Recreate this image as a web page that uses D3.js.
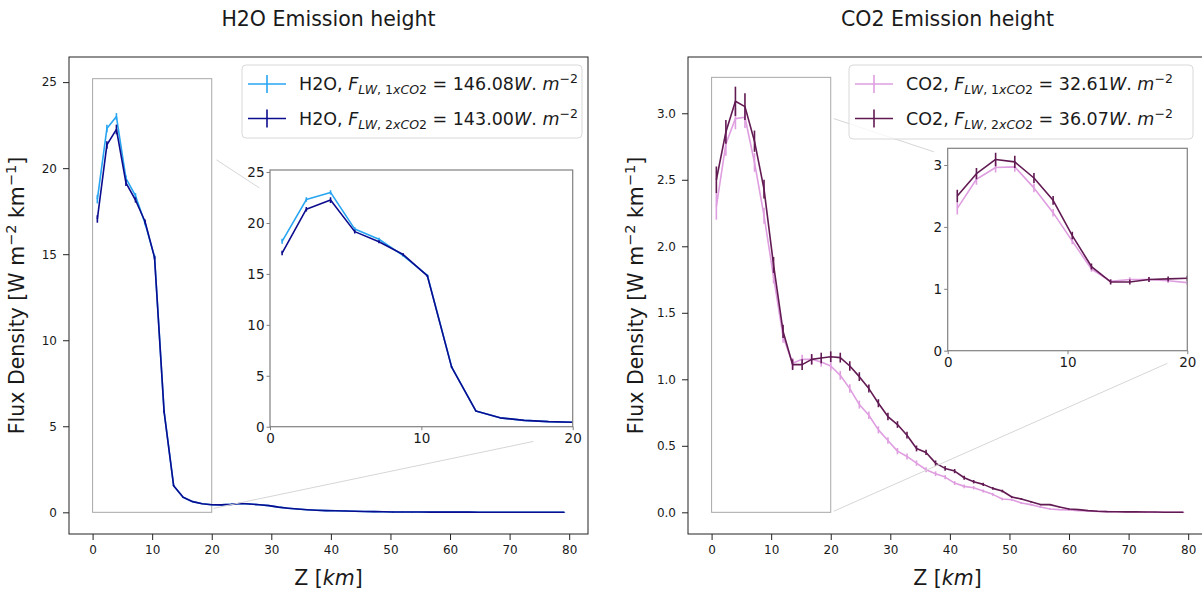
<!DOCTYPE html>
<html><head><meta charset="utf-8">
<script src="https://cdn.jsdelivr.net/npm/d3@7"></script>
<style>
body{margin:0;background:#fff}
svg{display:block}
text{font-family:"DejaVu Sans",sans-serif;fill:#1a1a1a}
</style>
</head><body>
<svg id="c" width="1202" height="592"></svg>
<script>
// ---------------- data ----------------
const zKm = [0.8,2.4,4.0,5.6,7.2,8.8,10.4,12.0,13.6,15.2,16.8,18.4,20.0,21.6,23.2,24.8,26.4,28.0,29.6,31.2,
  32.8,34.4,36.0,37.6,39.2,40.8,42.4,44.0,45.6,47.2,48.8,50.4,52.0,53.6,55.2,56.8,58.4,60.0,61.6,63.2,
  64.8,66.4,68.0,69.6,71.2,72.8,74.4,76.0,77.6,79.2];

const h2o1x = [18.2,22.3,23.0,19.4,18.4,16.8,14.85,5.88,1.55,0.87,0.62,0.50,0.44,0.43,0.46,0.51,0.48,0.44,0.39,0.30,
  0.24,0.19,0.15,0.12,0.10,0.09,0.08,0.065,0.05,0.04,0.03,0.02,0.02,0.015,0.015,0.012,0.01,0.01,0.01,0.01,
  0.008,0.008,0.007,0.006,0.006,0.005,0.005,0.004,0.004,0.003];
const h2o2x = [17.05,21.35,22.25,19.15,18.15,16.9,14.8,5.85,1.55,0.87,0.62,0.50,0.44,0.43,0.46,0.51,0.48,0.44,0.39,0.30,
  0.24,0.19,0.15,0.12,0.10,0.09,0.08,0.065,0.05,0.04,0.03,0.02,0.02,0.015,0.015,0.012,0.01,0.01,0.01,0.01,
  0.008,0.008,0.007,0.006,0.006,0.005,0.005,0.004,0.004,0.003];
const h2oErr1x = [0.25,0.22,0.20,0.18,0.15,0.12,0.10,0.06,0.03,0.02,0.015,0.01,0.01,0.01,0.01,0.01,0.01,0.01,0.01,0.01,
  0.01,0.01,0.01,0.01,0.01,0.01,0.01,0.01,0.01,0.01,0.01,0.01,0.01,0.01,0.01,0.01,0.01,0.01,0.01,0.01,
  0.01,0.01,0.01,0.01,0.01,0.01,0.01,0.01,0.01,0.01];
const h2oErr2x = [0.22,0.22,0.28,0.18,0.15,0.12,0.10,0.06,0.03,0.02,0.015,0.01,0.01,0.01,0.01,0.01,0.01,0.01,0.01,0.01,
  0.01,0.01,0.01,0.01,0.01,0.01,0.01,0.01,0.01,0.01,0.01,0.01,0.01,0.01,0.01,0.01,0.01,0.01,0.01,0.01,
  0.01,0.01,0.01,0.01,0.01,0.01,0.01,0.01,0.01,0.01];

const co21x = [2.30,2.77,2.96,2.97,2.63,2.23,1.77,1.32,1.12,1.15,1.15,1.13,1.10,1.03,0.93,0.81,0.73,0.62,0.54,0.46,
  0.42,0.37,0.32,0.29,0.265,0.22,0.195,0.185,0.16,0.135,0.10,0.095,0.07,0.058,0.04,0.025,0.02,0.018,0.013,0.01,
  0.007,0.005,0.004,0.003,0.002,0.002,0.001,0.001,0.001,0.001];
const co22x = [2.50,2.86,3.09,3.05,2.79,2.43,1.86,1.36,1.11,1.11,1.15,1.16,1.17,1.163,1.10,1.02,0.93,0.82,0.72,0.66,
  0.58,0.48,0.45,0.37,0.33,0.31,0.26,0.23,0.21,0.18,0.16,0.115,0.10,0.08,0.058,0.058,0.04,0.025,0.02,0.013,
  0.008,0.005,0.004,0.003,0.003,0.002,0.002,0.001,0.001,0.001];
const co2Err1x = [0.10,0.09,0.08,0.08,0.07,0.06,0.05,0.045,0.04,0.035,0.035,0.035,0.035,0.033,0.032,0.03,0.028,0.027,0.025,0.024,
  0.022,0.02,0.019,0.018,0.016,0.015,0.014,0.013,0.012,0.011,0.01,0.009,0.008,0.007,0.006,0.005,0.004,0.004,0.003,0.003,
  0.002,0.002,0.002,0.001,0.001,0.001,0.001,0.001,0.001,0.001];
const co2Err2x = [0.10,0.09,0.11,0.10,0.08,0.07,0.06,0.05,0.04,0.04,0.04,0.04,0.04,0.037,0.035,0.033,0.03,0.03,0.028,0.025,
  0.025,0.022,0.02,0.02,0.018,0.016,0.015,0.013,0.012,0.01,0.01,0.008,0.007,0.006,0.005,0.005,0.004,0.004,0.003,0.003,
  0.002,0.002,0.002,0.001,0.001,0.001,0.001,0.001,0.001,0.001];

const xTicks = [0,10,20,30,40,50,60,70,80];
const h2oYTicks = [0,5,10,15,20,25];
const co2YTicks = [0,0.5,1.0,1.5,2.0,2.5,3.0];
const insetXTicks = [0,10,20];
const h2oInsetYTicks = [0,5,10,15,20,25];
const co2InsetYTicks = [0,1,2,3];

const titles = ["H2O Emission height","CO2 Emission height"];
const species = ["H2O","CO2"];
const h2oFlux = ["146.08","143.00"];
const co2Flux = ["32.61","36.07"];
const h2oColors = ["#27a5f2","#0c0c8e"];
const co2Colors = ["#df9ee0","#621a53"];

// ---------------- drawing ----------------
const svg = d3.select('#c');
let clipId = 0;

function drawSeries(g, xs, ys, z, vals, errs, color) {
  const pts = z.map((d,i)=>({x:d,y:vals[i],e:errs[i]}));
  const line = d3.line().x(d=>xs(d.x)).y(d=>ys(d.y));
  g.append('path').datum(pts).attr('d',line).attr('fill','none')
    .attr('stroke',color).attr('stroke-width',1.6).attr('stroke-linejoin','round');
  g.selectAll(null).data(pts).enter().append('line')
    .attr('x1',d=>xs(d.x)).attr('x2',d=>xs(d.x))
    .attr('y1',d=>ys(d.y-d.e)).attr('y2',d=>ys(d.y+d.e))
    .attr('stroke',color).attr('stroke-width',1.6);
}

function makeClip(x,y,w,h){
  const id = 'clip'+(clipId++);
  svg.append('clipPath').attr('id',id).append('rect').attr('x',x).attr('y',y).attr('width',w).attr('height',h);
  return 'url(#'+id+')';
}

function panel(cfg){
  const {fx,fy,fw,fh,xDom,yDom,yTicks,yFmt,series,inset,conn,title,legend} = cfg;
  const xs = d3.scaleLinear().domain(xDom).range([fx,fx+fw]);
  const ys = d3.scaleLinear().domain(yDom).range([fy+fh,fy]);
  const g = svg.append('g');
  // title
  g.append('text').attr('x',fx+fw/2).attr('y',26).attr('text-anchor','middle')
    .style('font-size','20.5px').text(title);
  // plot content
  const cg = g.append('g').attr('clip-path',makeClip(fx,fy,fw,fh));
  // inset indicator rectangle
  cg.append('rect').attr('x',xs(inset.xDom[0])).attr('y',ys(inset.yDom[1]))
    .attr('width',xs(inset.xDom[1])-xs(inset.xDom[0])).attr('height',ys(inset.yDom[0])-ys(inset.yDom[1]))
    .attr('fill','none').attr('stroke','#a8a8a8').attr('stroke-width',1);
  series.forEach(s=>drawSeries(cg,xs,ys,zKm,s.vals,s.errs,s.color));
  // connector lines (in main data coordinates)
  conn.forEach(c=>{
    g.append('line').attr('x1',xs(c[0])).attr('y1',ys(c[1])).attr('x2',xs(c[2])).attr('y2',ys(c[3]))
      .attr('stroke','#d6d6d6').attr('stroke-width',1);
  });
  // axes
  const xAxis = d3.axisBottom(xs).tickValues(xTicks).tickSize(6).tickPadding(5).tickFormat(d3.format('d'));
  const ax = g.append('g').attr('transform',`translate(0,${fy+fh})`).call(xAxis);
  const yAxis = d3.axisLeft(ys).tickValues(yTicks).tickSize(6).tickPadding(6).tickFormat(yFmt);
  const ay = g.append('g').attr('transform',`translate(${fx},0)`).call(yAxis);
  [ax,ay].forEach(a=>{
    a.select('.domain').remove();
    a.selectAll('line').attr('stroke','#222').attr('stroke-width',1);
    a.selectAll('text').style('font-size','12px').style('font-family','"DejaVu Sans",sans-serif').attr('fill','#1a1a1a');
  });
  g.append('rect').attr('x',fx).attr('y',fy).attr('width',fw).attr('height',fh)
    .attr('fill','none').attr('stroke','#222').attr('stroke-width',1);
  // axis labels
  const xl = g.append('text').attr('x',fx+fw/2).attr('y',585).attr('text-anchor','middle').style('font-size','20.5px');
  xl.append('tspan').text('Z [');
  xl.append('tspan').style('font-style','italic').text('km');
  xl.append('tspan').text(']');
  const yl = g.append('text').attr('transform',`translate(${cfg.ylx},${fy+fh/2}) rotate(-90)`)
    .attr('text-anchor','middle').style('font-size','20.5px');
  yl.append('tspan').text('Flux Density [W m');
  yl.append('tspan').attr('dy',-8).style('font-size','14.5px').text('−2');
  yl.append('tspan').attr('dy',8).text(' km');
  yl.append('tspan').attr('dy',-8).style('font-size','14.5px').text('−1');
  yl.append('tspan').attr('dy',8).text(']');

  // legend
  const L = legend;
  const lg = g.append('g');
  lg.append('rect').attr('x',L.x).attr('y',L.y).attr('width',L.w).attr('height',L.h).attr('rx',4)
    .attr('fill','#fff').attr('fill-opacity',0.8).attr('stroke','#d9d9d9').attr('stroke-width',1);
  series.forEach((s,i)=>{
    const cy = L.y + 19 + i*34.5;
    const hx0 = L.x+6, hx1 = L.x+44;
    lg.append('line').attr('x1',hx0).attr('x2',hx1).attr('y1',cy).attr('y2',cy).attr('stroke',s.color).attr('stroke-width',1.6);
    lg.append('line').attr('x1',(hx0+hx1)/2).attr('x2',(hx0+hx1)/2).attr('y1',cy-9).attr('y2',cy+9).attr('stroke',s.color).attr('stroke-width',1.6);
    const t = lg.append('text').attr('x',L.x+57).attr('y',cy+6).style('font-size','17.5px');
    t.append('tspan').text(s.species+', ');
    t.append('tspan').style('font-style','italic').text('F');
    t.append('tspan').attr('dy',4).style('font-size','12.5px').style('font-style','italic').text('LW');
    t.append('tspan').style('font-size','12.5px').text(', '+(i+1));
    t.append('tspan').style('font-size','12.5px').style('font-style','italic').text('xCO');
    t.append('tspan').style('font-size','12.5px').text('2');
    t.append('tspan').attr('dy',-4).text(' = '+s.flux);
    t.append('tspan').style('font-style','italic').text('W');
    t.append('tspan').text('. ');
    t.append('tspan').style('font-style','italic').text('m');
    t.append('tspan').attr('dy',-7).style('font-size','12.5px').text('−2');
  });

  // inset
  const I = inset;
  const ixs = d3.scaleLinear().domain(I.xDom).range([I.x,I.x+I.w]);
  const iys = d3.scaleLinear().domain(I.yDom).range([I.y+I.h,I.y]);
  const ig = g.append('g');
  ig.append('rect').attr('x',I.x).attr('y',I.y).attr('width',I.w).attr('height',I.h).attr('fill','#fff');
  const icg = ig.append('g').attr('clip-path',makeClip(I.x,I.y,I.w,I.h));
  series.forEach(s=>drawSeries(icg,ixs,iys,zKm,s.vals,s.errs,s.color));
  const iax = ig.append('g').attr('transform',`translate(0,${I.y+I.h})`)
    .call(d3.axisBottom(ixs).tickValues(insetXTicks).tickSize(3.5).tickPadding(3).tickFormat(d3.format('d')));
  const iay = ig.append('g').attr('transform',`translate(${I.x},0)`)
    .call(d3.axisLeft(iys).tickValues(I.yTicks).tickSize(3.5).tickPadding(2).tickFormat(d3.format('d')));
  [iax,iay].forEach(a=>{
    a.select('.domain').remove();
    a.selectAll('line').attr('stroke','#808080').attr('stroke-width',1);
    a.selectAll('text').style('font-size','13.5px').style('font-family','"DejaVu Sans",sans-serif').attr('fill','#1a1a1a');
  });
  ig.append('rect').attr('x',I.x).attr('y',I.y).attr('width',I.w).attr('height',I.h)
    .attr('fill','none').attr('stroke','#808080').attr('stroke-width',1.2);
}

panel({
  fx:69, fy:57, fw:519, fh:477, xDom:[-3.96,83.16], yDom:[-1.26,26.46],
  yTicks:h2oYTicks, yFmt:d3.format('d'), title:titles[0], ylx:24,
  series:[
    {vals:h2o1x, errs:h2oErr1x, color:h2oColors[0], species:species[0], flux:h2oFlux[0]},
    {vals:h2o2x, errs:h2oErr2x, color:h2oColors[1], species:species[0], flux:h2oFlux[1]}
  ],
  inset:{x:270, y:170, w:302.7, h:256.7, xDom:[0,20], yDom:[0,25.2], yTicks:h2oInsetYTicks},
  conn:[[20.8,20.48,28.0,18.85],[20.3,0.23,74.0,4.12]],
  legend:{x:242, y:65, w:340, h:73}
});
panel({
  fx:688, fy:57, fw:519, fh:477, xDom:[-3.96,83.16], yDom:[-0.163,3.423],
  yTicks:co2YTicks, yFmt:d3.format('.1f'), title:titles[1], ylx:643,
  series:[
    {vals:co21x, errs:co2Err1x, color:co2Colors[0], species:species[1], flux:co2Flux[0]},
    {vals:co22x, errs:co2Err2x, color:co2Colors[1], species:species[1], flux:co2Flux[1]}
  ],
  inset:{x:947.7, y:148.3, w:239.6, h:202.4, xDom:[0,20], yDom:[0,3.27], yTicks:co2InsetYTicks},
  conn:[[20.5,2.96,37.3,2.71],[20.5,0.008,76.5,1.12]],
  legend:{x:849, y:65, w:344, h:74}
});
</script>
</body></html>
